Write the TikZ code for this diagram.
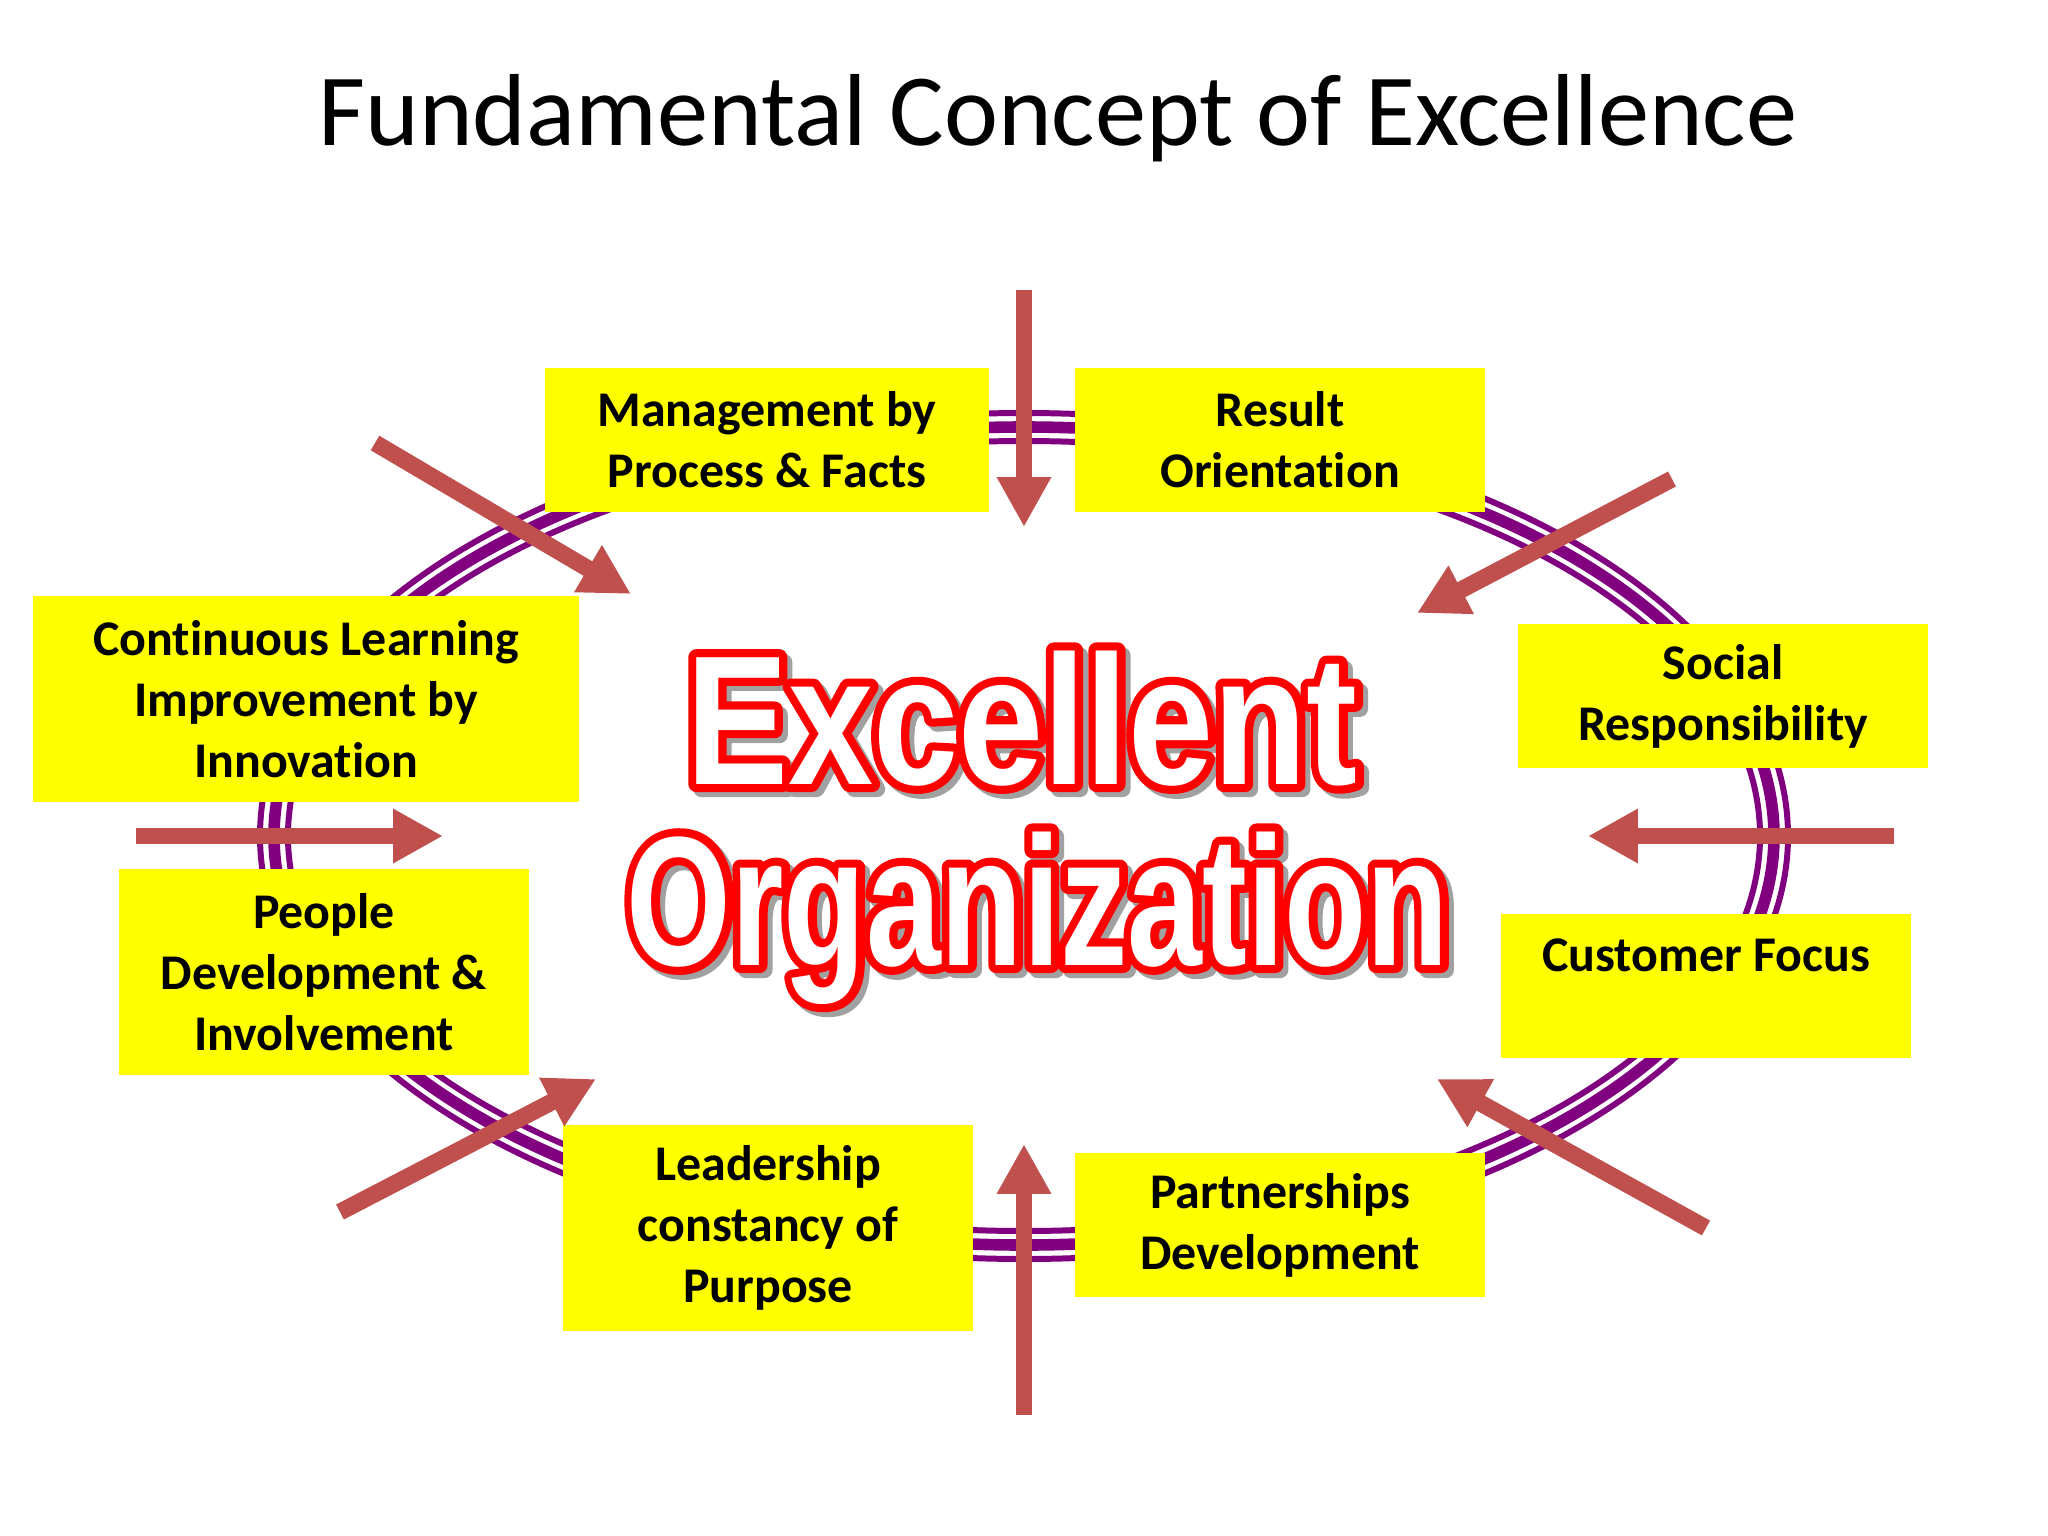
\documentclass[tikz,border=0pt]{standalone}
\usepackage{fontspec}
\setmainfont{Carlito}[Ligatures=NoCommon]
\newfontfamily\orgfontA{Liberation Sans}[FakeStretch=0.83]
\newfontfamily\orgfontB{Liberation Sans}[FakeStretch=0.73]
\usetikzlibrary{arrows.meta}
\definecolor{boxyellow}{HTML}{FFFF00}
\definecolor{ringpurple}{HTML}{800080}
\definecolor{arrowred}{HTML}{C0504D}
\definecolor{shadowgray}{HTML}{A0A0A0}
\newcommand\rimtext[3]{\special{pdf:literal direct 2 Tr #1 w 1 j #2 RG}#3\special{pdf:literal direct 0 Tr}}

\begin{document}
\begin{tikzpicture}[x=0.01cm,y=-0.01cm,
  concept/.style={fill=boxyellow,align=center,inner sep=0pt,minimum width=4.1cm,minimum height=1.43cm,
    font=\fontsize{14.2}{17.4}\selectfont\bfseries},
  tall/.style={minimum height=2.05cm},
  push/.style={arrowred,line width=4.8pt,-{Triangle[length=14.2pt,width=14.5pt]}},
  ring/.style={ringpurple,line width=1.7pt},
  orgword/.style={anchor=base,inner sep=0pt,font=\fontsize{52.4}{60}\selectfont\bfseries}]
\useasboundingbox (0,0) rectangle (2048,1536);
\fill[white] (0,0) rectangle (2048,1536);

\node[anchor=base,inner sep=0pt,font=\fontsize{29.1}{34}\selectfont] (title) at (1058,145) {Fundamental Concept of Excellence};

\coordinate (hub) at (1024,836);
\draw[ring] (hub) ellipse (764 and 423);
\draw[ring,line width=3.3pt] (hub) ellipse (750 and 409);
\draw[ring] (hub) ellipse (736 and 395);

\node[concept,minimum width=4.43cm] (mgmt) at (767,440) {Management by\\Process \& Facts};
\node[concept] (result) at (1280,440) {Result\\Orientation};
\node[concept,tall,minimum width=5.45cm] (learn) at (306,699) {Continuous Learning\\Improvement by\\Innovation};
\node[concept] (social) at (1723,696) {Social\\Responsibility};
\node[concept,tall] (people) at (324,972) {People\\Development \&\\Involvement};
\node[concept] (customer) at (1706,986) {Customer Focus\\\mbox{}};
\node[concept,tall] (lead) at (768,1228) {Leadership\\constancy of\\Purpose};
\node[concept] (partner) at (1280,1225) {Partnerships\\Development};

\coordinate (nS) at (1024,290);  \coordinate (nE) at (1024,527);
\coordinate (sS) at (1024,1415); \coordinate (sE) at (1024,1144);
\coordinate (wS) at (136,836);   \coordinate (wE) at (443,836);
\coordinate (eS) at (1894,836);  \coordinate (eE) at (1588,836);
\coordinate (nwS) at (375,443);  \coordinate (nwE) at (631,594);
\coordinate (neS) at (1672,479); \coordinate (neE) at (1417,613);
\coordinate (swS) at (340,1212); \coordinate (swE) at (596,1079);
\coordinate (seS) at (1706,1228);\coordinate (seE) at (1437,1079);
\draw[push] (nS) -- (nE);
\draw[push] (sS) -- (sE);
\draw[push] (wS) -- (wE);
\draw[push] (eS) -- (eE);
\draw[push] (nwS) -- (nwE);
\draw[push] (neS) -- (neE);
\draw[push] (swS) -- (swE);
\draw[push] (seS) -- (seE);

\node[orgword,text=shadowgray] (exclsh) at (1027,789) {\orgfontA\rimtext{4.6}{0.63 0.63 0.63}{Excellent}};
\node[orgword,text=red] (exclrim) at (1022,784) {\orgfontA\rimtext{4.6}{1 0 0}{Excellent}};
\node[orgword,text=white] (excl) at (1022,784) {\orgfontA Excellent};
\node[orgword,text=shadowgray] (orgsh) at (1043,970) {\orgfontB\rimtext{4.6}{0.63 0.63 0.63}{Organization}};
\node[orgword,text=red] (orgrim) at (1038,965) {\orgfontB\rimtext{4.6}{1 0 0}{Organization}};
\node[orgword,text=white] (org) at (1038,965) {\orgfontB Organization};
\end{tikzpicture}
\end{document}
